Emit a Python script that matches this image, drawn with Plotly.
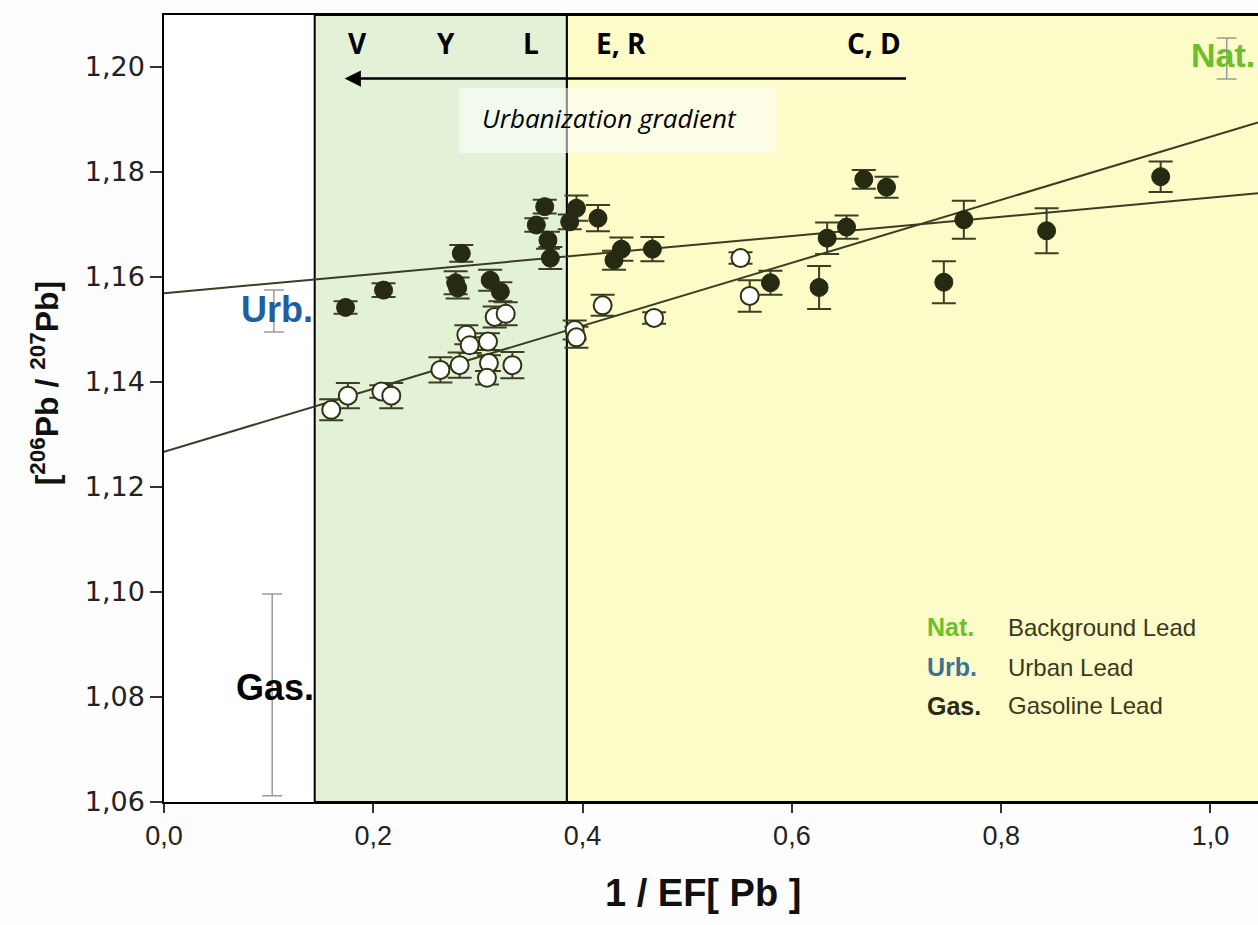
import numpy as np
import plotly.graph_objects as go

# ---------------- data ----------------
# filled circles (samples)
filled_x = [0.1735, 0.2098, 0.2787, 0.2806, 0.2841, 0.3117, 0.3214, 0.3558, 0.3638, 0.3669,
            0.3692, 0.3877, 0.3941, 0.4147, 0.4300, 0.4371, 0.4667, 0.5795, 0.6260, 0.6337,
            0.6522, 0.6687, 0.6904, 0.7452, 0.7643, 0.8434, 0.9524]
filled_y = [1.1542, 1.1575, 1.1589, 1.1579, 1.1645, 1.1594, 1.1572, 1.1699, 1.1734, 1.1670,
            1.1636, 1.1705, 1.1731, 1.1712, 1.1632, 1.1653, 1.1653, 1.1589, 1.1580, 1.1674,
            1.1695, 1.1786, 1.1771, 1.1590, 1.1709, 1.1688, 1.1791]
filled_err = [0.0012, 0.0013, 0.0022, 0.0020, 0.0016, 0.0020, 0.0018, 0.0013, 0.0013, 0.0016,
              0.0021, 0.0014, 0.0024, 0.0025, 0.0018, 0.0022, 0.0023, 0.0023, 0.0041, 0.0030,
              0.0022, 0.0018, 0.0020, 0.0040, 0.0036, 0.0043, 0.0029]

# open circles (samples)
open_x = [0.1598, 0.1757, 0.2077, 0.2172, 0.2641, 0.2825, 0.2889, 0.2921, 0.3096, 0.3105,
          0.3086, 0.3329, 0.3160, 0.3265, 0.3924, 0.3941, 0.4192, 0.4683, 0.5509, 0.5597]
open_y = [1.1347, 1.1374, 1.1382, 1.1374, 1.1423, 1.1432, 1.1490, 1.1470, 1.1477, 1.1436,
          1.1408, 1.1432, 1.1524, 1.1530, 1.1499, 1.1485, 1.1546, 1.1522, 1.1636, 1.1564]
open_err = [0.0020, 0.0024, 0.0012, 0.0024, 0.0024, 0.0024, 0.0018, 0.0015, 0.0016, 0.0015,
            0.0013, 0.0025, 0.0020, 0.0022, 0.0018, 0.0020, 0.0020, 0.0011, 0.0011, 0.0030]

# end-member reference values
ref_labels = ["Nat.", "Urb.", "Gas."]
ref_x = [1.0155, 0.1050, 0.1034]
ref_y = [1.2016, 1.1535, 1.0804]
ref_err = [0.0039, 0.0040, 0.0192]

# linear fits (intercept, slope)
fit_intercepts = [1.1569, 1.1267]
fit_slopes = [0.0182, 0.0600]

# zones along 1/EF[Pb]
zone_bounds = [0.144, 0.385]

# site labels on top
site_labels = ["V", "Y", "L", "E, R", "C, D"]
site_x = [0.185, 0.269, 0.351, 0.437, 0.678]

legend_abbr = ["Nat.", "Urb.", "Gas."]
legend_text = ["Background Lead", "Urban Lead", "Gasoline Lead"]

x_ticks = [0.0, 0.2, 0.4, 0.6, 0.8, 1.0]
y_ticks = [1.06, 1.08, 1.10, 1.12, 1.14, 1.16, 1.18, 1.20]

X_RANGE = [0.0, 1.0454]
Y_RANGE = [1.06, 1.2099]

# ---------------- styling ----------------
DARK = "#262a12"
BAR = "#3c4020"
LINE = "#3a3d24"
GREEN_FILL = "#e3f1d7"
YELLOW_FILL = "#fdfbc8"
ABBR_COLORS = {"Nat.": "#6cbf2a", "Urb.": "#1f5f9e", "Gas.": "#000000"}
LEG_ABBR_COLORS = {"Nat.": "#6cc02a", "Urb.": "#3d7298", "Gas.": "#2b2b12"}

fig = go.Figure()

# regression lines
xl = np.array(X_RANGE)
for b0, b1 in zip(fit_intercepts, fit_slopes):
    fig.add_trace(go.Scatter(x=xl, y=b0 + b1 * xl, mode="lines",
                             line=dict(color=LINE, width=2), showlegend=False,
                             hoverinfo="skip"))

# reference end-member error bars
fig.add_trace(go.Scatter(
    x=ref_x, y=ref_y, mode="markers",
    marker=dict(size=2, color="rgba(0,0,0,0)"),
    error_y=dict(type="data", array=ref_err, visible=True, color="#9a9a9a",
                 thickness=1.5, width=10),
    showlegend=False, cliponaxis=False))

# open samples
fig.add_trace(go.Scatter(
    x=open_x, y=open_y, mode="markers",
    marker=dict(size=18, color="#ffffff", line=dict(color="#2e3316", width=2)),
    error_y=dict(type="data", array=open_err, visible=True, color=BAR,
                 thickness=2, width=12),
    showlegend=False))

# filled samples
fig.add_trace(go.Scatter(
    x=filled_x, y=filled_y, mode="markers",
    marker=dict(size=18, color=DARK, line=dict(color=DARK, width=1)),
    error_y=dict(type="data", array=filled_err, visible=True, color=BAR,
                 thickness=2, width=12),
    showlegend=False))

shapes = [
    dict(type="rect", xref="x", yref="paper", x0=zone_bounds[0], x1=zone_bounds[1],
         y0=0, y1=1, fillcolor=GREEN_FILL, line=dict(color="black", width=2), layer="below"),
    dict(type="rect", xref="x", yref="paper", x0=zone_bounds[1], x1=X_RANGE[1] + 0.05,
         y0=0, y1=1, fillcolor=YELLOW_FILL, line=dict(color="black", width=2), layer="below"),
    dict(type="rect", xref="x", yref="y", x0=0.282, x1=0.585, y0=1.1836, y1=1.1960,
         fillcolor="rgba(255,255,255,0.55)", line=dict(width=0), layer="above"),
]

annotations = []
for lab, sx in zip(site_labels, site_x):
    annotations.append(dict(x=sx, y=1.2045, xref="x", yref="y", text=f"<b>{lab}</b>",
                            showarrow=False, font=dict(family="Open Sans", size=28, color="black"),
                            xanchor="center", yanchor="middle"))

# urbanization arrow
annotations.append(dict(x=0.1726, y=1.1978, ax=0.7105, ay=1.1978, xref="x", yref="y",
                        axref="x", ayref="y", text="", showarrow=True, arrowhead=2,
                        arrowsize=1.3, arrowwidth=2.5, arrowcolor="black", standoff=0))
annotations.append(dict(x=0.426, y=1.1903, xref="x", yref="y", text="<i>Urbanization gradient</i>",
                        showarrow=False, font=dict(family="Open Sans", size=26, color="black"),
                        xanchor="center", yanchor="middle"))

# end-member labels
annotations.append(dict(x=0.9790, y=1.2022, xref="x", yref="y", text="<b>Nat.</b>",
                        showarrow=False, xanchor="left", yanchor="middle",
                        font=dict(family="Liberation Sans", size=34, color=ABBR_COLORS["Nat."])))
annotations.append(dict(x=0.1080, y=1.1539, xref="x", yref="y", text="<b>Urb.</b>",
                        showarrow=False, xanchor="center", yanchor="middle",
                        font=dict(family="Liberation Sans", size=36, color=ABBR_COLORS["Urb."])))
annotations.append(dict(x=0.1063, y=1.0818, xref="x", yref="y", text="<b>Gas.</b>",
                        showarrow=False, xanchor="center", yanchor="middle",
                        font=dict(family="Liberation Sans", size=36, color=ABBR_COLORS["Gas."])))

# custom legend
leg_y = [1.0933, 1.0857, 1.0783]
for ab, tx, ly in zip(legend_abbr, legend_text, leg_y):
    annotations.append(dict(x=0.727, y=ly, xref="x", yref="y", text=f"<b>{ab}</b>",
                            showarrow=False, xanchor="left", yanchor="middle",
                            font=dict(family="Liberation Sans", size=25, color=LEG_ABBR_COLORS[ab])))
    annotations.append(dict(x=0.8045, y=ly, xref="x", yref="y", text=tx,
                            showarrow=False, xanchor="left", yanchor="middle",
                            font=dict(family="Liberation Sans", size=24, color="#3a3a1a")))

# axis titles
annotations.append(dict(x=-0.1088, y=0.532, xref="paper", yref="paper",
                        text="<b>[<sup>206</sup>Pb / <sup>207</sup>Pb]</b>", textangle=-90,
                        showarrow=False, xanchor="center", yanchor="middle",
                        font=dict(family="Liberation Sans", size=32, color="#111111")))
annotations.append(dict(x=0.4927, y=-0.1156, xref="paper", yref="paper",
                        text="<b>1 / EF[ Pb ]</b>",
                        showarrow=False, xanchor="center", yanchor="middle",
                        font=dict(family="Liberation Sans", size=38, color="#111111")))

fig.update_layout(
    width=1258, height=925,
    margin=dict(l=164, r=0, t=15, b=123),
    paper_bgcolor="#fdfdfd", plot_bgcolor="#ffffff",
    separators=", ",
    shapes=shapes, annotations=annotations,
    showlegend=False,
    xaxis=dict(range=X_RANGE, tickvals=x_ticks, tickformat=".1f", showgrid=False,
               zeroline=False, showline=True, linecolor="black", linewidth=2, mirror=True,
               ticks="outside", ticklen=9, tickcolor="#333333", tickwidth=1.5,
               tickfont=dict(family="Liberation Sans", size=27, color="#222222")),
    yaxis=dict(range=Y_RANGE, tickvals=y_ticks, tickformat=".2f", showgrid=False,
               zeroline=False, showline=True, linecolor="black", linewidth=1.5,
               ticks="outside", ticklen=12, tickcolor="#333333", tickwidth=1.5,
               tickfont=dict(family="DejaVu Sans", size=27, color="#222222")),
)

fig.write_html("out.html")
